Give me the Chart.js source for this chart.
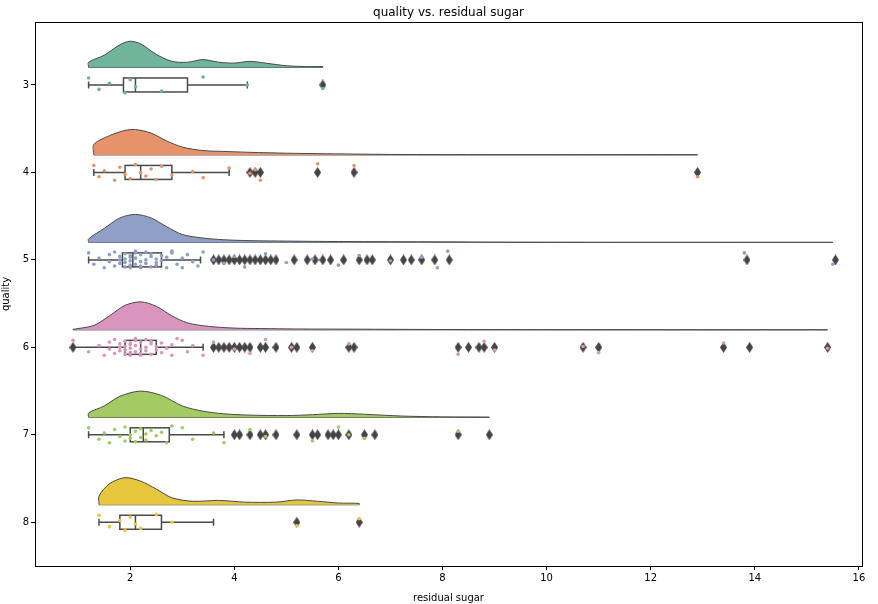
<!DOCTYPE html>
<html lang="en">
<head>
    <meta charset="UTF-8">
    <title>quality vs. residual sugar</title>
    <script src="https://cdn.jsdelivr.net/npm/chart.js"></script>
    <style>
        body { margin: 0; background: #fff; font-family: "DejaVu Sans", sans-serif; }
    </style>
</head>
<body>
    <canvas id="chart" width="878" height="604"></canvas>
    <script>
        // categories and colours
        const qualities = [3, 4, 5, 6, 7, 8];
        const colors = ['#70b59b', '#e8926c', '#8f9fc5', '#d995be', '#a3ca63', '#e5c63c'];

        // density clouds: x positions and heights (in quality units)
        const cloudX = [
            [1.2, 1.5, 1.8, 2.0, 2.2, 2.5, 2.8, 3.1, 3.4, 3.7, 4.0, 4.3, 4.6, 5.0, 5.4, 5.7],
            [1.3, 1.6, 1.9, 2.1, 2.4, 2.7, 3.0, 3.4, 3.8, 4.3, 5, 5.6, 6.3, 7, 8, 10, 12.9],
            [1.2, 1.5, 1.8, 2.1, 2.4, 2.7, 3.0, 3.4, 3.8, 4.3, 5, 6, 7, 8, 9, 11, 13.8, 15.5],
            [0.9, 1.3, 1.6, 1.9, 2.2, 2.5, 2.8, 3.1, 3.5, 4, 4.5, 5.2, 6.3, 8, 10, 13, 15.4],
            [1.2, 1.5, 1.8, 2.2, 2.6, 3.0, 3.4, 3.8, 4.3, 5, 5.5, 6.0, 6.5, 7.2, 8, 8.9],
            [1.4, 1.6, 1.9, 2.2, 2.5, 2.8, 3.2, 3.7, 4.2, 4.8, 5.2, 5.6, 6.0, 6.4]
        ];
        const cloudH = [
            [0.06, 0.14, 0.26, 0.30, 0.27, 0.15, 0.07, 0.06, 0.09, 0.06, 0.05, 0.07, 0.05, 0.02, 0.01, 0.01],
            [0.12, 0.22, 0.28, 0.29, 0.25, 0.16, 0.09, 0.05, 0.04, 0.03, 0.02, 0.015, 0.01, 0.006, 0.004, 0.003, 0.003],
            [0.04, 0.16, 0.28, 0.32, 0.28, 0.18, 0.09, 0.05, 0.03, 0.02, 0.015, 0.01, 0.008, 0.006, 0.003, 0.001, 0.001, 0.001],
            [0.005, 0.05, 0.16, 0.28, 0.32, 0.27, 0.16, 0.08, 0.04, 0.02, 0.015, 0.01, 0.008, 0.004, 0.002, 0.001, 0.001],
            [0.05, 0.13, 0.24, 0.30, 0.25, 0.13, 0.07, 0.04, 0.025, 0.02, 0.03, 0.045, 0.035, 0.015, 0.005, 0.002],
            [0.10, 0.24, 0.31, 0.27, 0.18, 0.08, 0.04, 0.05, 0.03, 0.03, 0.055, 0.04, 0.02, 0.015]
        ];

        // box stats: [whiskerLow, q1, median, q3, whiskerHigh]
        const boxStats = [
            [1.2, 1.87, 2.1, 3.1, 4.25],
            [1.3, 1.9, 2.2, 2.8, 3.9],
            [1.2, 1.85, 2.05, 2.6, 3.35],
            [0.9, 1.9, 2.2, 2.5, 3.4],
            [1.2, 2.0, 2.25, 2.75, 3.8],
            [1.4, 1.8, 2.1, 2.6, 3.6]
        ];

        // outliers
        const outliers = [
            [5.7],
            [4.3, 4.4, 4.5, 5.6, 6.3, 12.9],
            [3.6, 3.7, 3.8, 3.9, 4.0, 4.1, 4.2, 4.3, 4.4, 4.5, 4.6, 4.7, 4.8, 5.15, 5.4, 5.55, 5.7, 5.85, 6.1, 6.4, 6.55, 6.65, 7.0, 7.25, 7.4, 7.6, 7.85, 8.13, 13.85, 15.55],
            [0.9, 3.6, 3.7, 3.8, 3.9, 4.0, 4.1, 4.2, 4.3, 4.5, 4.6, 4.8, 5.1, 5.2, 5.5, 6.2, 6.3, 8.3, 8.5, 8.7, 8.8, 9.0, 10.7, 11.0, 13.4, 13.9, 15.4],
            [4.0, 4.1, 4.3, 4.5, 4.6, 4.8, 5.2, 5.5, 5.6, 5.8, 5.9, 6.0, 6.2, 6.5, 6.7, 8.3, 8.9],
            [5.2, 6.4]
        ];

        // strip points: x values and vertical jitter offsets
        const stripX = [
            [1.2, 1.4, 1.6, 1.9, 2.0, 2.1, 2.6, 3.4, 4.25, 5.7],
            [1.3, 1.4, 1.5, 1.7, 1.8, 1.9, 2.0, 2.1, 2.2, 2.3, 2.4, 2.5, 2.6, 2.8, 3.2, 3.4, 3.9, 4.3, 4.4, 4.5, 5.6, 6.3, 12.9],
            [1.2, 1.3, 1.4, 1.5, 1.6, 1.6, 1.7, 1.7, 1.8, 1.8, 1.8, 1.9, 1.9, 1.9, 1.9, 2.0, 2.0, 2.0, 2.0, 2.0, 2.1, 2.1, 2.1, 2.1, 2.2, 2.2, 2.2, 2.2, 2.3, 2.3, 2.3, 2.4, 2.4, 2.4, 2.5, 2.5, 2.5, 2.6, 2.6, 2.7, 2.7, 2.8, 2.8, 2.9, 3.0, 3.0, 3.1, 3.2, 3.3, 3.4, 3.6, 3.8, 4.0, 4.2, 4.6, 5.0, 5.5, 6.0, 6.4, 7.0, 7.6, 7.9, 8.1, 13.8, 15.5],
            [0.9, 1.2, 1.4, 1.5, 1.6, 1.6, 1.7, 1.7, 1.8, 1.8, 1.8, 1.9, 1.9, 1.9, 1.9, 2.0, 2.0, 2.0, 2.0, 2.0, 2.1, 2.1, 2.1, 2.1, 2.2, 2.2, 2.2, 2.2, 2.3, 2.3, 2.3, 2.4, 2.4, 2.4, 2.5, 2.5, 2.6, 2.6, 2.7, 2.8, 2.8, 2.9, 3.0, 3.1, 3.2, 3.4, 3.6, 4.0, 4.3, 4.6, 5.1, 5.5, 6.2, 8.3, 8.8, 9.0, 10.7, 11.0, 13.4, 15.4],
            [1.2, 1.4, 1.5, 1.6, 1.7, 1.8, 1.9, 1.9, 2.0, 2.0, 2.1, 2.1, 2.2, 2.2, 2.3, 2.3, 2.4, 2.5, 2.6, 2.7, 2.8, 3.0, 3.2, 3.6, 3.8, 4.3, 4.6, 5.5, 6.0, 6.2, 6.5, 8.3],
            [1.4, 1.6, 1.8, 1.9, 2.0, 2.1, 2.2, 2.5, 2.8, 5.2, 6.4]
        ];
        const jitterSet = [-0.08, 0.05, -0.02, 0.09, -0.06, 0.02, 0.07, -0.09, 0.0, 0.04, -0.04, 0.08, -0.07, 0.03, -0.01, 0.06, -0.05, 0.01, -0.03, 0.09, -0.1];

        const CLOUD_OFFSET = 0.2;

        // thin vertical diamond for outliers
        const diamond = document.createElement('canvas');
        diamond.width = 7; diamond.height = 11;
        (function () {
            const c = diamond.getContext('2d');
            c.fillStyle = '#444';
            c.beginPath();
            c.moveTo(3.5, 0); c.lineTo(7, 5.5); c.lineTo(3.5, 11); c.lineTo(0, 5.5);
            c.closePath(); c.fill();
        })();

        const datasets = [];

        qualities.forEach((q, i) => {
            const base = q - CLOUD_OFFSET;
            const pts = [{ x: cloudX[i][0], y: base }];
            cloudX[i].forEach((x, k) => pts.push({ x: x, y: base - cloudH[i][k] }));
            pts.push({ x: cloudX[i][cloudX[i].length - 1], y: base });
            datasets.push({
                type: 'line',
                data: pts,
                borderColor: '#4a4a4a',
                borderWidth: 1,
                backgroundColor: colors[i],
                fill: { value: base },
                pointRadius: 0,
                tension: 0.3
            });
        });

        qualities.forEach((q, i) => {
            datasets.push({
                type: 'scatter',
                data: stripX[i].map((x, k) => ({ x: x, y: q + jitterSet[k % jitterSet.length] })),
                backgroundColor: colors[i],
                borderWidth: 0,
                pointRadius: 1.8
            });
        });

        qualities.forEach((q, i) => {
            datasets.push({
                type: 'scatter',
                data: outliers[i].map(x => ({ x: x, y: q })),
                pointStyle: diamond,
                pointRadius: 4
            });
        });

        const boxPlugin = {
            id: 'boxes',
            beforeDatasetsDraw(chart) {
                const ctx = chart.ctx, xs = chart.scales.x, ys = chart.scales.y;
                ctx.save();
                ctx.strokeStyle = '#4a4a4a';
                ctx.lineWidth = 1.5;
                qualities.forEach((q, i) => {
                    const s = boxStats[i];
                    const yc = ys.getPixelForValue(q);
                    const yt = ys.getPixelForValue(q - 0.08), yb = ys.getPixelForValue(q + 0.08);
                    const ct = ys.getPixelForValue(q - 0.04), cb = ys.getPixelForValue(q + 0.04);
                    const p = s.map(v => xs.getPixelForValue(v));
                    ctx.beginPath();
                    ctx.moveTo(p[0], yc); ctx.lineTo(p[1], yc);
                    ctx.moveTo(p[3], yc); ctx.lineTo(p[4], yc);
                    ctx.moveTo(p[0], ct); ctx.lineTo(p[0], cb);
                    ctx.moveTo(p[4], ct); ctx.lineTo(p[4], cb);
                    ctx.moveTo(p[2], yt); ctx.lineTo(p[2], yb);
                    ctx.stroke();
                    ctx.strokeRect(p[1], yt, p[3] - p[1], yb - yt);
                    // cloud baseline
                    const by = ys.getPixelForValue(q - CLOUD_OFFSET);
                    ctx.lineWidth = 1;
                    ctx.beginPath();
                    ctx.moveTo(xs.getPixelForValue(cloudX[i][0]), by);
                    ctx.lineTo(xs.getPixelForValue(cloudX[i][cloudX[i].length - 1]), by);
                    ctx.stroke();
                    ctx.lineWidth = 1.5;
                });
                ctx.restore();
            },
            afterDraw(chart) {
                const ctx = chart.ctx, a = chart.chartArea;
                ctx.save();
                ctx.strokeStyle = '#000';
                ctx.lineWidth = 1;
                ctx.strokeRect(a.left + 0.5, a.top + 0.5, a.right - a.left, a.bottom - a.top);
                ctx.fillStyle = '#000';
                ctx.font = '12px "DejaVu Sans"';
                ctx.textAlign = 'center';
                ctx.fillText('quality vs. residual sugar', (a.left + a.right) / 2, 16);
                ctx.restore();
            }
        };

        const tickGrid = { display: true, drawOnChartArea: false, drawTicks: true, tickLength: 4, color: '#000' };

        new Chart(document.getElementById('chart'), {
            data: { datasets: datasets },
            options: {
                responsive: false,
                animation: false,
                layout: { padding: { top: 22, right: 16, left: 0, bottom: 0 } },
                plugins: { legend: { display: false }, tooltip: { enabled: false } },
                scales: {
                    x: {
                        type: 'linear',
                        min: 0.17, max: 16.06,
                        afterBuildTicks: s => { s.ticks = [2, 4, 6, 8, 10, 12, 14, 16].map(v => ({ value: v })); },
                        afterFit: s => { s.height = 38; },
                        grid: tickGrid,
                        border: { color: '#000' },
                        ticks: { color: '#000', padding: 2, font: { size: 10, family: 'DejaVu Sans' } },
                        title: { display: true, text: 'residual sugar', color: '#000', font: { size: 10, family: 'DejaVu Sans' }, padding: 0 }
                    },
                    y: {
                        type: 'linear',
                        reverse: true,
                        min: 2.28, max: 8.5,
                        afterBuildTicks: s => { s.ticks = qualities.map(v => ({ value: v })); },
                        afterFit: s => { s.width = 35; },
                        grid: tickGrid,
                        border: { color: '#000' },
                        ticks: { color: '#000', padding: 2, font: { size: 10, family: 'DejaVu Sans' } },
                        title: { display: true, text: 'quality', color: '#000', font: { size: 10, family: 'DejaVu Sans' }, padding: 0 }
                    }
                }
            },
            plugins: [boxPlugin]
        });
    </script>
</body>
</html>
